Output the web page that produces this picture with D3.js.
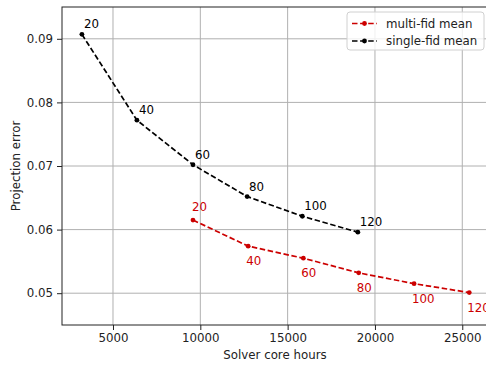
<!DOCTYPE html>
<html>
<head>
<meta charset="utf-8">
<script src="https://cdn.jsdelivr.net/npm/d3@7"></script>
<style>
  body { margin: 0; background: #fff; }
  svg { display: block; font-family: "DejaVu Sans", sans-serif; }
</style>
</head>
<body>
<div id="chart"></div>
<script>
// CONSTANTS
const WIDTH = 486;
const HEIGHT = 370;
const margin = { top: 7, right: -3, bottom: 45, left: 62 };
const FONT = 11.8;

// data
const fidLabels = [20, 40, 60, 80, 100, 120];
const singleHours = [3220, 6370, 9580, 12680, 15840, 19020];
const singleError = [0.0907, 0.0772, 0.0702, 0.0652, 0.0621, 0.0596];
const multiHours = [9580, 12740, 15900, 19070, 22240, 25400];
const multiError = [0.0615, 0.0574, 0.0555, 0.0532, 0.0515, 0.0501];
const xTicks = [5000, 10000, 15000, 20000, 25000];
const yTicks = [0.05, 0.06, 0.07, 0.08, 0.09];

const RED = "#cc0000";
const BLACK = "#000000";

const series = [
  { name: "multi-fid mean", color: RED, hours: multiHours, error: multiError, below: true },
  { name: "single-fid mean", color: BLACK, hours: singleHours, error: singleError, below: false }
];

const svg = d3.select("#chart")
  .append("svg")
  .attr("width", WIDTH)
  .attr("height", HEIGHT);

const x = d3.scaleLinear()
  .domain([2080, 26530])
  .range([margin.left, WIDTH - margin.right]);

const y = d3.scaleLinear()
  .domain([0.045, 0.095])
  .range([HEIGHT - margin.bottom, margin.top]);

// grid
const grid = svg.append("g").attr("stroke", "#b0b0b0").attr("stroke-width", 1);
grid.selectAll(".gx").data(xTicks).enter().append("line")
  .attr("x1", d => x(d)).attr("x2", d => x(d))
  .attr("y1", y.range()[0]).attr("y2", y.range()[1]);
grid.selectAll(".gy").data(yTicks).enter().append("line")
  .attr("x1", x.range()[0]).attr("x2", x.range()[1])
  .attr("y1", d => y(d)).attr("y2", d => y(d));

// axes
const xAxis = svg.append("g")
  .attr("transform", `translate(0,${HEIGHT - margin.bottom})`)
  .call(d3.axisBottom(x).tickValues(xTicks).tickFormat(d3.format("d")).tickSize(5).tickPadding(4));
const yAxis = svg.append("g")
  .attr("transform", `translate(${margin.left},0)`)
  .call(d3.axisLeft(y).tickValues(yTicks).tickFormat(d3.format(".2f")).tickSize(5).tickPadding(4));

[xAxis, yAxis].forEach(a => {
  a.select(".domain").remove();
  a.selectAll("text").attr("font-size", FONT).attr("fill", "#222").attr("font-family", "DejaVu Sans");
  a.selectAll("line").attr("stroke", "#222");
});

// frame
svg.append("rect")
  .attr("x", margin.left)
  .attr("y", margin.top)
  .attr("width", x.range()[1] - margin.left)
  .attr("height", y.range()[0] - margin.top)
  .attr("fill", "none")
  .attr("stroke", "#222")
  .attr("stroke-width", 1);

const line = d3.line().x(d => x(d[0])).y(d => y(d[1]));

series.forEach(s => {
  const pts = s.hours.map((h, i) => [h, s.error[i], fidLabels[i]]);
  const g = svg.append("g");
  g.append("path")
    .attr("d", line(pts))
    .attr("fill", "none")
    .attr("stroke", s.color)
    .attr("stroke-width", 1.7)
    .attr("stroke-dasharray", "5.5,2.6");
  g.selectAll("circle").data(pts).enter().append("circle")
    .attr("cx", d => x(d[0])).attr("cy", d => y(d[1]))
    .attr("r", 2.4).attr("fill", s.color);
  g.selectAll("text").data(pts).enter().append("text")
    .attr("x", (d, i) => x(d[0]) + (s.below && i > 0 ? -2 : (s.below ? -1 : 2)))
    .attr("y", (d, i) => y(d[1]) + (s.below && i > 0 ? 19 : (s.below ? -9 : -6)))
    .attr("font-size", FONT)
    .attr("fill", s.color)
    .text(d => d[2]);
});

// axis labels
svg.append("text")
  .attr("x", 275).attr("y", 359)
  .attr("text-anchor", "middle")
  .attr("font-size", FONT).attr("fill", "#222")
  .text("Solver core hours");
svg.append("text")
  .attr("transform", `translate(20,${(margin.top + y.range()[0]) / 2}) rotate(-90)`)
  .attr("text-anchor", "middle")
  .attr("font-size", FONT).attr("fill", "#222")
  .text("Projection error");

// legend
const legend = svg.append("g").attr("transform", "translate(347,12)");
legend.append("rect")
  .attr("width", 137).attr("height", 38).attr("rx", 3)
  .attr("fill", "white").attr("fill-opacity", 0.8)
  .attr("stroke", "#d0d0d0");
series.forEach((s, i) => {
  const ly = 11.5 + i * 17.5;
  legend.append("line")
    .attr("x1", 5).attr("x2", 30).attr("y1", ly).attr("y2", ly)
    .attr("stroke", s.color).attr("stroke-width", 1.7)
    .attr("stroke-dasharray", "5.5,2.6");
  legend.append("circle").attr("cx", 17.5).attr("cy", ly).attr("r", 2.4).attr("fill", s.color);
  legend.append("text")
    .attr("x", 39).attr("y", ly + 4)
    .attr("font-size", FONT).attr("fill", "#222")
    .text(s.name);
});
</script>
</body>
</html>
